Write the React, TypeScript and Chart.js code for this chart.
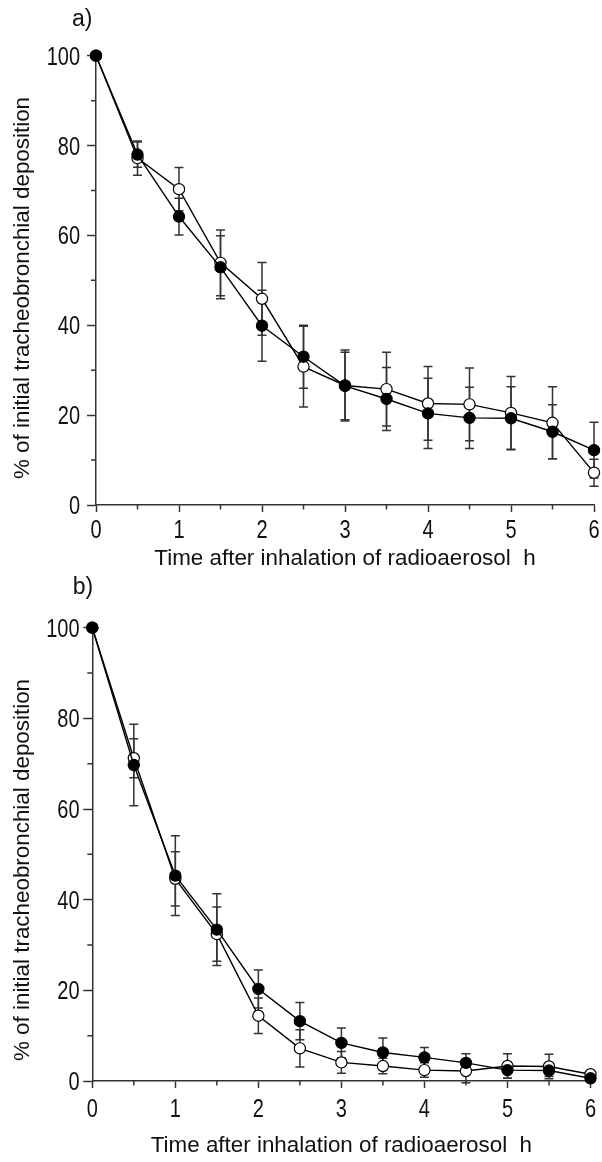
import React, { useEffect, useRef } from 'react';
import { Chart, registerables } from 'chart.js';

Chart.register(...registerables);

const FONT = "'Liberation Sans', Arial, Helvetica, sans-serif";
const AXIS_COLOR = '#333333';
const TEXT_COLOR = '#111111';

// ---- data ----
const timeH = [0, 0.5, 1, 1.5, 2, 2.5, 3, 3.5, 4, 4.5, 5, 5.5, 6];

// panel a
const aClosed = [100, 78, 64.2, 52.9, 39.9, 33, 26.5, 23.6, 20.4, 19.4, 19.3, 16.3, 12.2];
const aClosedErr = [0, 2.8, 4.1, 7, 7.9, 7, 7.5, 7, 7.8, 6.8, 7, 6, 6.2];
const aOpen = [100, 77.2, 70.3, 53.9, 45.9, 30.8, 26.6, 25.8, 22.6, 22.4, 20.5, 18.3, 7.2];
const aOpenErr = [0, 3.8, 4.8, 7.3, 8.1, 9, 7.9, 8.2, 8.2, 8.1, 8.1, 8, 3];

// panel b
const bClosed = [100, 69.7, 45.3, 33.4, 20.3, 13.2, 8.4, 6.3, 5.2, 4.0, 2.4, 2.3, 0.6];
const bClosedErr = [0, 9, 8.8, 7.9, 4.2, 4.1, 3.3, 3.2, 2.2, 2.0, 1.8, 1.3, 0.6];
const bOpen = [100, 71.2, 44.6, 32.4, 14.4, 7.2, 4.1, 3.3, 2.4, 2.2, 3.3, 3.2, 1.5];
const bOpenErr = [0, 4.3, 6, 6, 3.9, 4.1, 2.4, 1.7, 1.6, 2.6, 2.7, 2.7, 0.6];

const xTicks = [0, 1, 2, 3, 4, 5, 6];
const xMinorTicks = [0.5, 1.5, 2.5, 3.5, 4.5, 5.5];
const yTicks = [0, 20, 40, 60, 80, 100];
const yMinorTicks = [10, 30, 50, 70, 90];

const xTitle = 'Time after inhalation of radioaerosol  h';
const yTitle = '% of initial tracheobronchial deposition';
const panelLabels = ['a)', 'b)'];

// ---- layout (page pixels / canvas pixels) ----
const W = 602;
const TICK_SIZE = 25;
const TICK_SX = 0.8;
const TITLE_SIZE = 22.4;

const panels = [
  {
    top: 0, height: 580, left: 96, right: 594, areaTop: 55.7, areaBottom: 505,
    xLabelBase: 537.7, xTitleBase: 565, yTitleX: 28.5, yTitleCenter: 288,
    yLabelRight: 80, labelX: 72, labelY: 25.5,
    closed: aClosed, closedErr: aClosedErr, open: aOpen, openErr: aOpenErr, label: panelLabels[0],
  },
  {
    top: 570, height: 592, left: 92.3, right: 590.5, areaTop: 57.7, areaBottom: 511,
    xLabelBase: 547, xTitleBase: 582, yTitleX: 28.5, yTitleCenter: 300,
    yLabelRight: 79.5, labelX: 72.7, labelY: 23.5,
    closed: bClosed, closedErr: bClosedErr, open: bOpen, openErr: bOpenErr, label: panelLabels[1],
  },
];

type Panel = typeof panels[number];

function drawText(
  ctx: CanvasRenderingContext2D,
  text: string,
  x: number,
  y: number,
  size: number,
  align: CanvasTextAlign,
  sx: number,
  rotate: boolean,
) {
  ctx.save();
  ctx.translate(x, y);
  if (rotate) ctx.rotate(-Math.PI / 2);
  ctx.scale(sx, 1);
  ctx.font = `${size}px ${FONT}`;
  ctx.textAlign = align;
  ctx.textBaseline = 'alphabetic';
  ctx.fillStyle = TEXT_COLOR;
  ctx.fillText(text, 0, 0);
  ctx.restore();
}

function makeChart(canvas: HTMLCanvasElement, p: Panel) {
  const errorBars = {
    id: 'errorBars',
    beforeDatasetsDraw(chart: any) {
      const { ctx } = chart;
      const xs = chart.scales.x;
      const ys = chart.scales.y;
      const sets = [
        { v: p.open, e: p.openErr },
        { v: p.closed, e: p.closedErr },
      ];
      ctx.save();
      ctx.strokeStyle = AXIS_COLOR;
      ctx.lineWidth = 1.5;
      for (const s of sets) {
        for (let i = 0; i < timeH.length; i++) {
          const e = s.e[i];
          if (!e) continue;
          const px = xs.getPixelForValue(timeH[i]);
          const y1 = ys.getPixelForValue(s.v[i] + e);
          const y2 = ys.getPixelForValue(s.v[i] - e);
          ctx.beginPath();
          ctx.moveTo(px, y1);
          ctx.lineTo(px, y2);
          ctx.moveTo(px - 4.5, y1);
          ctx.lineTo(px + 4.5, y1);
          ctx.moveTo(px - 4.5, y2);
          ctx.lineTo(px + 4.5, y2);
          ctx.stroke();
        }
      }
      ctx.restore();
    },
  };

  const axisText = {
    id: 'axisText',
    afterDraw(chart: any) {
      const { ctx, chartArea } = chart;
      const xs = chart.scales.x;
      const ys = chart.scales.y;
      // minor ticks
      ctx.save();
      ctx.strokeStyle = AXIS_COLOR;
      ctx.lineWidth = 1.5;
      ctx.beginPath();
      const bottom = ys.getPixelForValue(0);
      for (const v of xMinorTicks) {
        const px = xs.getPixelForValue(v);
        ctx.moveTo(px, bottom);
        ctx.lineTo(px, bottom + 4.5);
      }
      const left = xs.getPixelForValue(0);
      for (const v of yMinorTicks) {
        const py = ys.getPixelForValue(v);
        ctx.moveTo(left, py);
        ctx.lineTo(left - 5, py);
      }
      ctx.stroke();
      ctx.restore();

      // tick labels
      for (const v of xTicks) {
        drawText(ctx, String(v), xs.getPixelForValue(v), p.xLabelBase, TICK_SIZE, 'center', TICK_SX, false);
      }
      for (const v of yTicks) {
        drawText(ctx, String(v), p.yLabelRight, ys.getPixelForValue(v) + TICK_SIZE * 0.358, TICK_SIZE, 'right', TICK_SX, false);
      }
      // axis titles
      drawText(ctx, xTitle, (chartArea.left + chartArea.right) / 2, p.xTitleBase, TITLE_SIZE, 'center', 1, false);
      drawText(ctx, yTitle, p.yTitleX, p.yTitleCenter, TITLE_SIZE, 'center', 1, true);
      // panel label
      drawText(ctx, p.label, p.labelX, p.labelY, 23, 'left', 1, false);
    },
  };

  return new Chart(canvas, {
    type: 'line',
    data: {
      datasets: [
        {
          label: 'closed',
          data: timeH.map((t, i) => ({ x: t, y: p.closed[i] })),
          borderColor: '#000',
          borderWidth: 1.4,
          backgroundColor: '#000',
          pointBackgroundColor: '#000',
          pointBorderColor: '#000',
          pointBorderWidth: 1.2,
          pointRadius: 5.6,
          tension: 0,
          clip: false as any,
        },
        {
          label: 'open',
          data: timeH.map((t, i) => ({ x: t, y: p.open[i] })),
          borderColor: '#000',
          borderWidth: 1.4,
          backgroundColor: '#fff',
          pointBackgroundColor: '#fff',
          pointBorderColor: '#000',
          pointBorderWidth: 1.2,
          pointRadius: 5.6,
          tension: 0,
          clip: false as any,
        },
      ],
    },
    options: {
      animation: false,
      responsive: false,
      devicePixelRatio: 1,
      events: [],
      layout: { padding: { top: p.areaTop, right: W - p.right, left: 0, bottom: 0 } },
      plugins: {
        legend: { display: false },
        tooltip: { enabled: false },
        title: { display: false },
      },
      scales: {
        x: {
          type: 'linear',
          min: 0,
          max: 6,
          afterBuildTicks: (s: any) => {
            s.ticks = xTicks.map((v) => ({ value: v }));
          },
          afterFit: (s: any) => {
            s.height = p.height - p.areaBottom;
          },
          border: { display: true, color: AXIS_COLOR, width: 1.5 },
          grid: {
            display: true,
            drawOnChartArea: false,
            drawTicks: true,
            tickLength: 7,
            tickColor: AXIS_COLOR,
            tickWidth: 1.5,
          },
          ticks: { display: false, autoSkip: false },
          title: { display: false },
        },
        y: {
          type: 'linear',
          min: 0,
          max: 100,
          afterBuildTicks: (s: any) => {
            s.ticks = yTicks.map((v) => ({ value: v }));
          },
          afterFit: (s: any) => {
            s.width = p.left;
          },
          border: { display: true, color: AXIS_COLOR, width: 1.5 },
          grid: {
            display: true,
            drawOnChartArea: false,
            drawTicks: true,
            tickLength: 9,
            tickColor: AXIS_COLOR,
            tickWidth: 1.5,
          },
          ticks: { display: false, autoSkip: false },
          title: { display: false },
        },
      },
    },
    plugins: [errorBars, axisText],
  } as any);
}

function PanelChart({ p }: { p: Panel }) {
  const ref = useRef<HTMLCanvasElement | null>(null);
  useEffect(() => {
    if (!ref.current) return;
    const chart = makeChart(ref.current, p);
    return () => chart.destroy();
  }, [p]);
  return (
    <canvas
      ref={ref}
      width={W}
      height={p.height}
      style={{ position: 'absolute', left: 0, top: p.top, width: W, height: p.height }}
    />
  );
}

export default function App() {
  return (
    <div style={{ position: 'absolute', left: 0, top: 0, width: W, height: 1162, background: '#fff' }}>
      {panels.map((p, i) => (
        <PanelChart key={i} p={p} />
      ))}
    </div>
  );
}
